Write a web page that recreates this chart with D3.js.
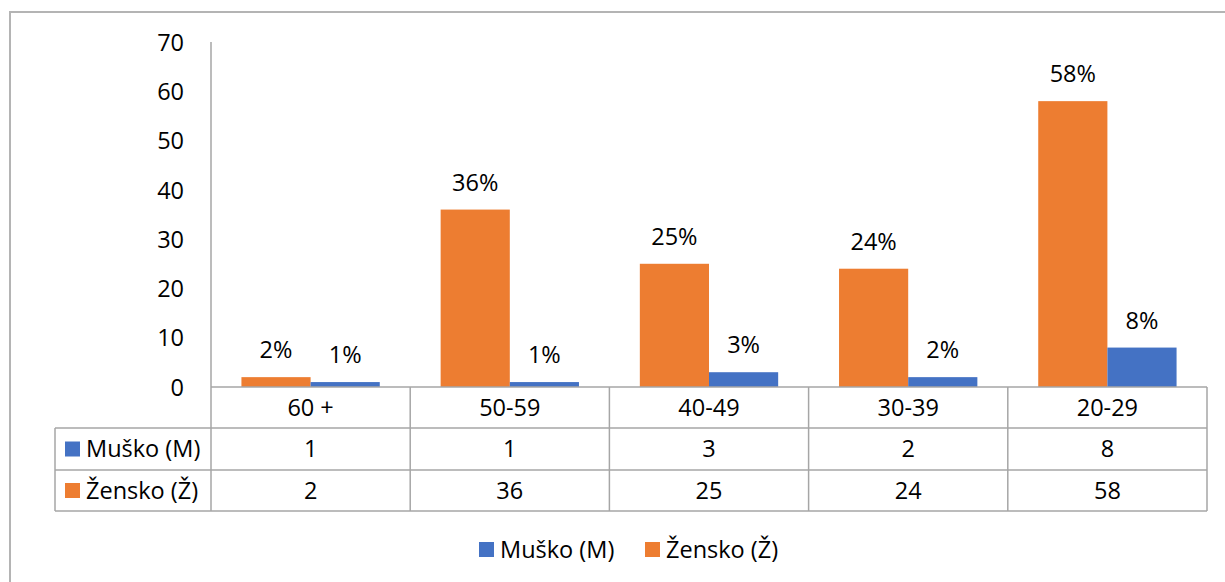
<!DOCTYPE html>
<html>
<head>
<meta charset="utf-8">
<script src="https://cdn.jsdelivr.net/npm/d3@7"></script>
<style>
  body { margin: 0; background: #fff; }
  text { font-family: "Open Sans", sans-serif; fill: #000; }
</style>
</head>
<body>
<div id="chart"></div>
<script>
// DATA
const categories = ["60 +", "50-59", "40-49", "30-39", "20-29"];
const seriesNames = ["Muško (M)", "Žensko (Ž)"];
const musko = [1, 1, 3, 2, 8];
const zensko = [2, 36, 25, 24, 58];
const yTicks = [0, 10, 20, 30, 40, 50, 60, 70];

const colors = { "Muško (M)": "#4472C4", "Žensko (Ž)": "#ED7D31" };
const values = { "Muško (M)": musko, "Žensko (Ž)": zensko };

const W = 1225, H = 582;
const plot = { left: 211, right: 1207, top: 42, bottom: 387 };
const rows = [387, 428, 470, 511];
const tableLeft = 55;
const lineCol = "#a6a6a6";
const fs = 23.5;

const svg = d3.select("#chart").append("svg")
  .attr("width", W).attr("height", H);

// outer frame
svg.append("path")
  .attr("d", `M10,${H} V12 H${W + 5}`)
  .attr("fill", "none").attr("stroke", "#b4b4b4").attr("stroke-width", 2);

// SCALES
const x = d3.scaleBand().domain(categories).range([plot.left, plot.right]);
const barOrder = ["Žensko (Ž)", "Muško (M)"];
const x1 = d3.scaleBand().domain(barOrder).range([0, x.bandwidth()]).paddingOuter(0.44);
const y = d3.scaleLinear().domain([0, 70]).range([plot.bottom, plot.top]);

// BARS + DATA LABELS
const g = svg.append("g");
categories.forEach((c, i) => {
  barOrder.forEach(s => {
    const v = values[s][i];
    g.append("rect")
      .attr("x", x(c) + x1(s))
      .attr("y", y(v))
      .attr("width", x1.bandwidth())
      .attr("height", y(0) - y(v))
      .attr("fill", colors[s]);
    g.append("text")
      .attr("x", x(c) + x1(s) + x1.bandwidth() / 2)
      .attr("y", y(v) - 19)
      .attr("text-anchor", "middle")
      .style("font-size", fs + "px")
      .text(v + "%");
  });
});

// Y AXIS
const yAxis = svg.append("g")
  .attr("transform", `translate(${plot.left},0)`)
  .call(d3.axisLeft(y).tickValues(yTicks).tickSize(0).tickPadding(27));
yAxis.select(".domain").remove();
yAxis.selectAll("text")
  .style("font-size", fs + "px")
  .attr("font-family", null)
  .attr("fill", null)
  .attr("dy", "0.35em");

// TABLE LINES
const lines = svg.append("g").attr("stroke", lineCol).attr("stroke-width", 1.5);
lines.append("line").attr("x1", plot.left).attr("x2", plot.left)
  .attr("y1", plot.top).attr("y2", rows[3]);
lines.append("line").attr("x1", plot.left).attr("x2", plot.right)
  .attr("y1", rows[0]).attr("y2", rows[0]);
[rows[1], rows[2], rows[3]].forEach(r => {
  lines.append("line").attr("x1", tableLeft).attr("x2", plot.right)
    .attr("y1", r).attr("y2", r);
});
lines.append("line").attr("x1", tableLeft).attr("x2", tableLeft)
  .attr("y1", rows[1]).attr("y2", rows[3]);
categories.forEach(c => {
  lines.append("line").attr("x1", x(c) + x.bandwidth()).attr("x2", x(c) + x.bandwidth())
    .attr("y1", rows[0]).attr("y2", rows[3]);
});

// TABLE TEXT
categories.forEach((c, i) => {
  svg.append("text")
    .attr("x", x(c) + x.bandwidth() / 2)
    .attr("y", (rows[0] + rows[1]) / 2)
    .attr("dy", "0.35em")
    .attr("text-anchor", "middle")
    .style("font-size", fs + "px")
    .text(c);
  seriesNames.forEach((s, j) => {
    svg.append("text")
      .attr("x", x(c) + x.bandwidth() / 2)
      .attr("y", (rows[j + 1] + rows[j + 2]) / 2)
      .attr("dy", "0.35em")
      .attr("text-anchor", "middle")
      .style("font-size", fs + "px")
      .text(values[s][i]);
  });
});
seriesNames.forEach((s, j) => {
  const cy = (rows[j + 1] + rows[j + 2]) / 2;
  svg.append("rect")
    .attr("x", 65).attr("y", cy - 7.5)
    .attr("width", 15).attr("height", 15)
    .attr("fill", colors[s]);
  svg.append("text")
    .attr("x", 86).attr("y", cy)
    .attr("dy", "0.35em")
    .style("font-size", fs + "px")
    .text(s);
});

// LEGEND
const legendX = [479, 645];
seriesNames.forEach((s, j) => {
  svg.append("rect")
    .attr("x", legendX[j]).attr("y", 542)
    .attr("width", 15).attr("height", 15)
    .attr("fill", colors[s]);
  svg.append("text")
    .attr("x", legendX[j] + 21).attr("y", 549.5)
    .attr("dy", "0.35em")
    .style("font-size", fs + "px")
    .text(s);
});
</script>
</body>
</html>
